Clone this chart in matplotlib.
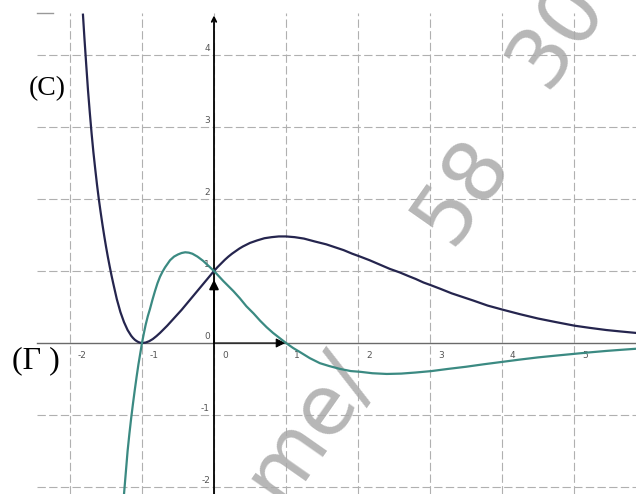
import matplotlib.pyplot as plt

# curve (C), values
c_x = [-1.82, -1.80, -1.775, -1.75, -1.725, -1.70, -1.675, -1.65, -1.625, -1.60,
       -1.575, -1.55, -1.525, -1.50, -1.475, -1.45, -1.425, -1.40, -1.375, -1.35,
       -1.325, -1.30, -1.275, -1.25, -1.225, -1.20, -1.175, -1.15, -1.125, -1.10,
       -1.075, -1.05, -1.025, -1.00, -0.95, -0.90, -0.85, -0.80, -0.75, -0.70,
       -0.65, -0.60, -0.55, -0.50, -0.45, -0.40, -0.35, -0.30, -0.25, -0.20,
       -0.15, -0.10, -0.05, 0.00, 0.05, 0.10, 0.15, 0.20, 0.25, 0.30,
       0.35, 0.40, 0.45, 0.50, 0.60, 0.70, 0.80, 0.90, 1.00, 1.12,
       1.25, 1.40, 1.56, 1.68, 1.80, 1.92, 2.03, 2.16, 2.30, 2.44,
       2.58, 2.70, 2.80, 2.91, 3.02, 3.15, 3.30, 3.45, 3.60, 3.80,
       4.02, 4.25, 4.50, 4.75, 5.01, 5.22, 5.45, 5.65, 5.86]
c_y = [4.56, 4.24, 3.87, 3.51, 3.20, 2.91, 2.65, 2.42, 2.20, 2.00,
       1.82, 1.65, 1.49, 1.34, 1.20, 1.07, 0.945, 0.83, 0.72, 0.61,
       0.52, 0.43, 0.36, 0.29, 0.235, 0.18, 0.14, 0.10, 0.07, 0.045,
       0.027, 0.013, 0.004, 0.00, 0.006, 0.025, 0.055, 0.095, 0.14, 0.19,
       0.24, 0.295, 0.35, 0.405, 0.46, 0.52, 0.58, 0.64, 0.70, 0.76,
       0.82, 0.88, 0.94, 1.00, 1.055, 1.105, 1.155, 1.20, 1.24, 1.275,
       1.31, 1.34, 1.365, 1.39, 1.425, 1.455, 1.47, 1.48, 1.48, 1.47,
       1.45, 1.41, 1.37, 1.33, 1.29, 1.24, 1.20, 1.15, 1.09, 1.03,
       0.98, 0.93, 0.89, 0.84, 0.80, 0.75, 0.69, 0.64, 0.59, 0.52,
       0.46, 0.40, 0.34, 0.29, 0.24, 0.21, 0.18, 0.16, 0.14]

# curve (Gamma)
g_x = [-1.25, -1.225, -1.20, -1.175, -1.15, -1.125, -1.10, -1.075, -1.05, -1.025,
       -1.00, -0.975, -0.95, -0.92, -0.89, -0.855, -0.82, -0.785, -0.75, -0.715,
       -0.68, -0.645, -0.61, -0.555, -0.50, -0.45, -0.40, -0.35, -0.30, -0.23,
       -0.15, -0.075, 0.00, 0.065, 0.13, 0.20, 0.27, 0.36, 0.45, 0.55,
       0.64, 0.73, 0.82, 0.91, 1.00, 1.10, 1.20, 1.33, 1.47, 1.60,
       1.75, 1.90, 2.03, 2.20, 2.40, 2.60, 2.80, 3.02, 3.25, 3.50,
       3.75, 4.02, 4.25, 4.50, 4.75, 5.01, 5.22, 5.45, 5.65, 5.86]
g_y = [-2.10, -1.80, -1.50, -1.26, -1.04, -0.84, -0.65, -0.47, -0.30, -0.15,
       0.00, 0.13, 0.25, 0.37, 0.47, 0.60, 0.72, 0.83, 0.92, 0.99,
       1.05, 1.10, 1.15, 1.20, 1.23, 1.25, 1.26, 1.255, 1.24, 1.20,
       1.14, 1.07, 1.00, 0.93, 0.86, 0.79, 0.72, 0.62, 0.51, 0.41,
       0.31, 0.22, 0.14, 0.07, 0.00, -0.07, -0.13, -0.21, -0.28, -0.32,
       -0.36, -0.39, -0.40, -0.42, -0.43, -0.425, -0.41, -0.39, -0.36, -0.33,
       -0.295, -0.26, -0.23, -0.20, -0.175, -0.15, -0.13, -0.11, -0.095, -0.08]

x_ticks = [-2, -1, 0, 1, 2, 3, 4, 5]
y_ticks = [-2, -1, 0, 1, 2, 3, 4]

NAVY = '#25254e'
TEAL = '#3b8a82'
GRID = '#b0b0b0'

UNIT = 72.0  # pixels per unit on both axes
fig = plt.figure(figsize=(6.36, 4.94), dpi=100)
ax = fig.add_axes([0, 0, 1, 1])
ax.set_xlim(-214 / UNIT, 422 / UNIT)
ax.set_ylim(-151 / UNIT, 343 / UNIT)
ax.axis('off')

grid_left = -2.46
grid_top = 4.58
xmax = ax.get_xlim()[1]
ymin = ax.get_ylim()[0]
dash = (0, (7.5, 3))

for xv in x_ticks:
    ax.plot([xv, xv], [ymin, grid_top], color=GRID, lw=0.8, ls=dash, zorder=1)
for yv in y_ticks:
    if yv == 0:
        continue
    ax.plot([grid_left, xmax], [yv, yv], color=GRID, lw=0.8, ls=dash, zorder=1)
ax.plot([grid_left, grid_left + 0.22], [grid_top, grid_top], color='#999999', lw=1, zorder=1)

# axes
ax.plot([grid_left, xmax], [0, 0], color='#6a6a6a', lw=1, zorder=2)
ax.annotate('', xy=(0, 4.55), xytext=(0, ymin),
            arrowprops=dict(arrowstyle='->', lw=1.3, color='black',
                            mutation_scale=8, shrinkA=0, shrinkB=0), zorder=3)

# unit vectors
ax.annotate('', xy=(0.99, 0), xytext=(0, 0),
            arrowprops=dict(arrowstyle='-|>', lw=0.8, color='black',
                            mutation_scale=14, shrinkA=0, shrinkB=0), zorder=3)
ax.annotate('', xy=(0, 0.88), xytext=(0, 0),
            arrowprops=dict(arrowstyle='-|>', lw=1.3, color='black',
                            mutation_scale=14, shrinkA=0, shrinkB=0), zorder=3)

# tick labels
for xv in x_ticks:
    ax.text(xv + 8 / UNIT, -13 / UNIT, str(xv), fontsize=6.5, color='#555555',
            ha='left', va='center', zorder=4)
for yv in y_ticks:
    ax.text(-4 / UNIT, yv + 2 / UNIT, str(yv), fontsize=6.5, color='#555555',
            ha='right', va='bottom', zorder=4)

# watermark
wm = dict(color='#aaaaaa', alpha=0.85, family='DejaVu Sans', ha='center',
          va='center', rotation=55, zorder=2)
ax.text(3.44, 2.12, '58', fontsize=60, **wm)
ax.text(4.76, 4.30, '30', fontsize=60, **wm)
ax.text(1.31, -1.15, 'me/', fontsize=60, **wm)

# curves
ax.plot(c_x, c_y, color=NAVY, lw=1.6, zorder=5)
ax.plot(g_x, g_y, color=TEAL, lw=1.6, zorder=5)

# curve names
ax.text(-2.32, 3.54, '(C)', fontsize=20, family='Liberation Serif',
        ha='center', va='center', color='black', zorder=6)
ax.text(-2.47, -0.24, '(\u0393 )', fontsize=23, family='Liberation Serif',
        ha='center', va='center', color='black', zorder=6)

fig.savefig('out.png', dpi=100)
